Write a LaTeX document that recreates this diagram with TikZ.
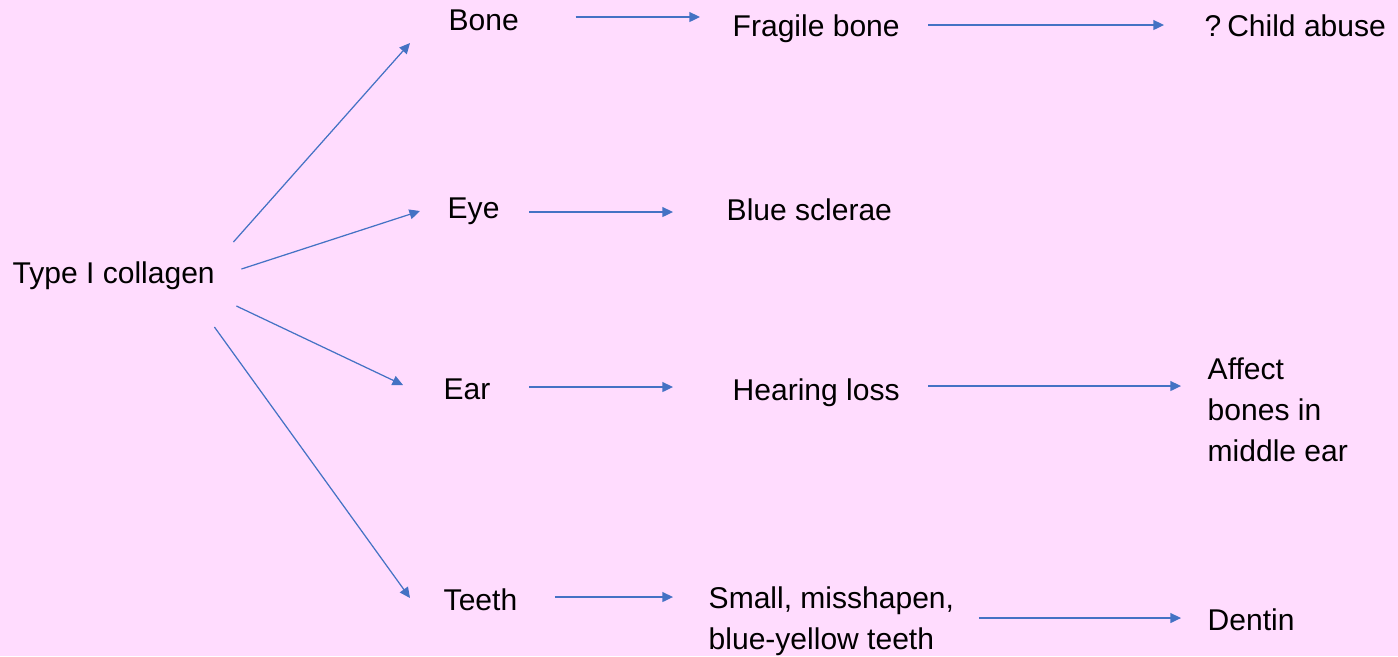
\documentclass[tikz,border=0pt]{standalone}
\usepackage{fontspec}
\setmainfont{Liberation Sans}
\usepackage{tikz}
\usetikzlibrary{arrows.meta,positioning,calc}
\definecolor{PinkPanel}{HTML}{FFDCFE}
\definecolor{LinkBlue}{HTML}{4472C4}

\tikzset{
  txt/.style={anchor=west, inner sep=0pt, text height=0.72em, text depth=0pt},
  multi/.style={anchor=north west, inner sep=0pt, align=left},
  flow/.style={draw=LinkBlue, line width=0.35pt, -{Triangle[length=3pt,width=2.8pt]}}
}

\begin{document}
\begin{tikzpicture}[x=0.01cm, y=-0.01cm, font=\fontsize{8.54}{11.7}\selectfont]
  \fill[PinkPanel] (0,0) rectangle (1398,656);

  % left column
  \node[txt] (collagen) at (12,271) {Type I collagen};

  % organs
  \node[txt] (bone)  at (448,18)  {Bone};
  \node[txt] (eye)   at (447,206) {Eye};
  \node[txt] (ear)   at (443,387) {Ear};
  \node[txt] (teeth) at (443,598) {Teeth};

  % signs
  \node[txt] (fragile) at (732,24)  {Fragile bone};
  \node[txt] (sclerae) at (726,208) {Blue sclerae};
  \node[txt] (hearing) at (732,388) {Hearing loss};
  \node[multi] (small) at (708,586) {Small, misshapen,\\blue-yellow teeth};

  % right column
  \node[txt] (child) at (1204,24) {?\hspace{-1.5pt} Child abuse};
  \node[multi] (affect) at (1207,357) {Affect\\bones in\\middle ear};
  \node[txt] (dentin) at (1207,618) {Dentin};

  % fan out
  \draw[flow] ([shift={(18,-29)}]collagen.east) -- ([shift={(-38,25)}]bone.west);
  \draw[flow] ([shift={(26,-2)}]collagen.east) -- ([shift={(-27,5)}]eye.west);
  \draw[flow] ([shift={(21,35)}]collagen.east) -- ([shift={(-40,-2)}]ear.west);
  \draw[flow] ([shift={(-1,56)}]collagen.east) -- ([shift={(-33,0)}]teeth.west);

  % rows
  \draw[flow] ([shift={(56,-1)}]bone.east) -- ([shift={(-32,-1)}]bone.east -| fragile.west);
  \draw[flow] ([shift={(28,1)}]fragile.east) -- ([shift={(-40,1)}]fragile.east -| child.west);
  \draw[flow] ([shift={(29,6)}]eye.east) -- ([shift={(-53,6)}]eye.east -| sclerae.west);
  \draw[flow] ([shift={(38,0)}]ear.east) -- ([shift={(-59,0)}]ear.east -| hearing.west);
  \draw[flow] ([shift={(28,-2)}]hearing.east) -- ([shift={(-26,-2)}]hearing.east -| affect.west);
  \draw[flow] ([shift={(37,-1)}]teeth.east) -- ([shift={(-35,-1)}]teeth.east -| small.west);
  \draw[flow] ([shift={(24,0)}]small.east |- dentin.west) -- ([shift={(-26,0)}]dentin.west);
\end{tikzpicture}
\end{document}
